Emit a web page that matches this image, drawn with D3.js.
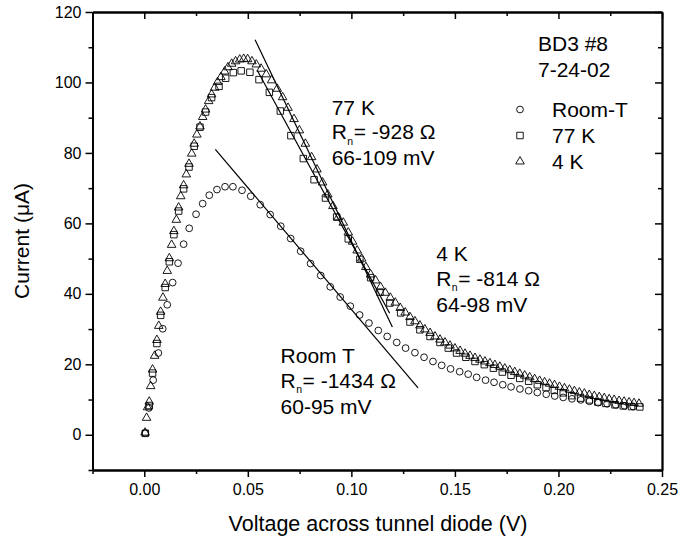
<!DOCTYPE html>
<html>
<head>
<meta charset="utf-8">
<script src="https://cdn.jsdelivr.net/npm/d3@7"></script>
<style>
  body { margin: 0; background: #fff; }
  svg { font-family: "Liberation Sans", Arial, sans-serif; }
</style>
</head>
<body>
<div id="chart"></div>
<script>
// Room temperature sweep (circles): [voltage V, current uA]
const roomT = [
  [0.0005,0.5],[0.0022,7.6],[0.0043,15.5],[0.0068,23.2],[0.0089,30.1],[0.0111,36.9],
  [0.0137,43.2],[0.0163,48.7],[0.0190,54.1],[0.0217,58.6],[0.0250,62.6],[0.0282,65.6],
  [0.0314,68.0],[0.0351,69.6],[0.0390,70.4],[0.0428,70.4],[0.0472,69.4],[0.0514,67.7],
  [0.0560,65.3],[0.0608,62.5],[0.0659,59.2],[0.0707,55.7],[0.0755,52.1],[0.0803,48.6],
  [0.0852,45.2],[0.0898,42.0],[0.0946,39.1],[0.0995,36.5],[0.1040,34.0],[0.1085,31.7],
  [0.1130,29.6],[0.1173,27.9],[0.1219,26.2],[0.1262,24.6],[0.1307,23.3],[0.1351,22.0],
  [0.1394,20.8],[0.1436,19.7],[0.1479,18.7],[0.1523,17.9],[0.1564,17.2],[0.1605,16.3],
  [0.1648,15.5],[0.1689,14.9],[0.1731,14.2],[0.1771,13.6],[0.1814,13.0],[0.1856,12.5],
  [0.1898,12.0],[0.1941,11.5],[0.1982,11.0],[0.2023,10.6],[0.2065,10.2],[0.2108,9.9],
  [0.2150,9.5],[0.2192,9.1],[0.2235,8.8],[0.2277,8.5],[0.2319,8.2],[0.2361,8.0]
];

// 77 K sweep (squares)
const k77 = [
  [0.0005,0.4],[0.0024,8.3],[0.0040,17.5],[0.0061,25.9],[0.0079,33.9],[0.0101,41.8],
  [0.0121,49.1],[0.0143,56.8],[0.0166,63.5],[0.0190,69.8],[0.0216,76.0],[0.0241,81.9],
  [0.0269,87.3],[0.0296,91.6],[0.0325,95.7],[0.0361,98.9],[0.0393,101.2],[0.0430,102.8],
  [0.0468,103.3],[0.0510,102.9],[0.0554,100.8],[0.0604,97.2],[0.0657,91.9],[0.0708,84.9],
  [0.0768,78.4],[0.0820,72.4],[0.0875,67.2],[0.0929,61.8],[0.0985,55.6],[0.1041,49.8],
  [0.1093,44.6],[0.1138,40.5],[0.1186,37.4],[0.1238,34.6],[0.1283,32.0],[0.1331,29.8],
  [0.1380,27.9],[0.1428,26.2],[0.1468,24.6],[0.1508,23.2],[0.1553,22.0],[0.1597,20.8],
  [0.1642,19.9],[0.1686,18.9],[0.1729,17.8],[0.1771,16.9],[0.1813,16.0],[0.1856,15.2],
  [0.1898,14.2],[0.1940,13.4],[0.1980,12.6],[0.2023,11.9],[0.2064,11.1],[0.2107,10.4],
  [0.2149,9.9],[0.2190,9.3],[0.2229,8.9],[0.2273,8.5],[0.2313,8.2],[0.2353,8.0],[0.2393,7.9]
];

// 4 K sweep (triangles)
const k4 = [
  [0.0004,0.6],[0.0011,4.8],[0.0016,7.8],[0.0024,9.4],[0.0031,13.8],[0.0040,18.5],
  [0.0050,22.4],[0.0061,26.9],[0.0070,30.9],[0.0079,34.9],[0.0090,38.9],[0.0101,42.8],
  [0.0111,46.5],[0.0121,50.1],[0.0132,53.9],[0.0143,57.8],[0.0155,61.0],[0.0166,64.5],
  [0.0176,67.7],[0.0190,70.8],[0.0203,73.9],[0.0216,76.9],[0.0229,79.8],[0.0241,82.6],
  [0.0254,85.2],[0.0269,87.5],[0.0282,90.2],[0.0296,92.3],[0.0311,94.7],[0.0325,96.6],
  [0.0340,98.5],[0.0354,100.1],[0.0370,101.5],[0.0388,103.1],[0.0404,104.3],[0.0422,105.3],
  [0.0441,106.0],[0.0461,106.5],[0.0480,106.7],[0.0499,106.6],[0.0520,106.0],[0.0541,105.1],
  [0.0564,103.9],[0.0589,102.3],[0.0615,100.6],[0.0642,98.2],[0.0668,95.8],[0.0694,92.8],
  [0.0723,89.6],[0.0749,86.4],[0.0778,82.6],[0.0808,78.8],[0.0834,75.3],[0.0861,71.6],
  [0.0886,68.2],[0.0911,64.9],[0.0936,61.7],[0.0961,60.2],[0.0985,57.4],[0.1006,54.8],
  [0.1028,52.3],[0.1050,50.0],[0.1070,47.6],[0.1093,45.5],[0.1117,43.8],[0.1141,41.9],
  [0.1164,40.3],[0.1188,38.9],[0.1212,37.5],[0.1236,36.0],[0.1260,34.7],[0.1283,33.4],
  [0.1307,32.2],[0.1331,31.0],[0.1355,29.9],[0.1380,28.9],[0.1404,27.9],[0.1428,27.0],
  [0.1452,26.2],[0.1476,25.3],[0.1500,24.5],[0.1525,23.8],[0.1549,23.0],[0.1573,22.4],
  [0.1597,21.8],[0.1621,21.3],[0.1645,20.8],[0.1669,20.3],[0.1693,19.8],[0.1717,19.3],
  [0.1741,18.8],[0.1765,18.3],[0.1789,17.8],[0.1813,17.3],[0.1837,16.8],[0.1861,16.3],
  [0.1885,15.8],[0.1909,15.3],[0.1933,14.9],[0.1957,14.5],[0.1981,14.1],[0.2005,13.6],
  [0.2029,13.2],[0.2053,12.8],[0.2077,12.4],[0.2101,12.0],[0.2125,11.7],[0.2149,11.3],
  [0.2173,11.0],[0.2197,10.7],[0.2221,10.4],[0.2245,10.1],[0.2269,9.9],[0.2293,9.6],
  [0.2317,9.4],[0.2341,9.2],[0.2365,9.0],[0.2389,8.8]
];

// linear fits over the negative-resistance region: [[v1,i1],[v2,i2]]
const fit4K = [[0.0535,112.1],[0.1198,30.6]];
const fit77K = [[0.0546,103.4],[0.1185,34.5]];
const fitRoomT = [[0.0343,81.0],[0.1322,13.3]];

const xTicks = [0, 0.05, 0.10, 0.15, 0.20, 0.25];
const yTicks = [0, 20, 40, 60, 80, 100, 120];
const xMinor = [-0.025, 0.025, 0.075, 0.125, 0.175, 0.225];
const yMinor = [-10, 10, 30, 50, 70, 90, 110];

const legendNames = ['Room-T', '77 K', '4 K'];
const notes = [
  { title: '77 K', r: '= -928 \u03A9', range: '66-109 mV', v: 0.0905, i: 90.8 },
  { title: '4 K', r: '= -814 \u03A9', range: '64-98 mV', v: 0.141, i: 49.2 },
  { title: 'Room T', r: '= -1434 \u03A9', range: '60-95 mV', v: 0.0658, i: 20.3 }
];

const W = 680, H = 546;
const x = d3.scaleLinear().domain([-0.025, 0.25]).range([92.5, 662]);
const y = d3.scaleLinear().domain([-10, 120]).range([470, 12]);

const svg = d3.select('#chart').append('svg')
  .attr('width', W).attr('height', H);

const fmtX = d3.format('.2f');
const majorLen = 7, minorLen = 4;

// bottom axis
svg.append('g').attr('transform', `translate(0,${y(-10)})`)
  .call(d3.axisBottom(x).tickValues(xTicks).tickFormat(fmtX).tickSize(majorLen).tickSizeOuter(0).tickPadding(7));
svg.append('g').attr('transform', `translate(0,${y(-10)})`)
  .call(d3.axisBottom(x).tickValues(xMinor).tickFormat('').tickSize(minorLen).tickSizeOuter(0));
// top axis (ticks inward)
svg.append('g').attr('transform', `translate(0,${y(120)})`)
  .call(d3.axisBottom(x).tickValues(xTicks).tickFormat('').tickSize(majorLen).tickSizeOuter(0));
svg.append('g').attr('transform', `translate(0,${y(120)})`)
  .call(d3.axisBottom(x).tickValues(xMinor).tickFormat('').tickSize(minorLen).tickSizeOuter(0));
// left axis
svg.append('g').attr('transform', `translate(${x(-0.025)},0)`)
  .call(d3.axisLeft(y).tickValues(yTicks).tickSize(majorLen).tickSizeOuter(0).tickPadding(4));
svg.append('g').attr('transform', `translate(${x(-0.025)},0)`)
  .call(d3.axisLeft(y).tickValues(yMinor).tickFormat('').tickSize(minorLen).tickSizeOuter(0));
// right axis (ticks inward)
svg.append('g').attr('transform', `translate(${x(0.25)},0)`)
  .call(d3.axisLeft(y).tickValues(yTicks).tickFormat('').tickSize(majorLen).tickSizeOuter(0));
svg.append('g').attr('transform', `translate(${x(0.25)},0)`)
  .call(d3.axisLeft(y).tickValues(yMinor).tickFormat('').tickSize(minorLen).tickSizeOuter(0));

svg.selectAll('.domain').attr('stroke', '#000').attr('stroke-width', 1.8);
svg.selectAll('.tick line').attr('stroke', '#000').attr('stroke-width', 1.5);
svg.selectAll('.tick text').attr('fill', '#000').style('font-size', '16px')
  .style('font-family', '"Liberation Sans", Arial, sans-serif');

// axis titles
svg.append('text')
  .attr('x', 378).attr('y', 531)
  .attr('text-anchor', 'middle')
  .style('font-size', '21.5px')
  .text('Voltage across tunnel diode (V)');
svg.append('text')
  .attr('transform', `translate(29,${241}) rotate(-90)`)
  .attr('text-anchor', 'middle')
  .style('font-size', '21px')
  .text('Current (\u03BCA)');

// fit lines
const line = d3.line().x(d => x(d[0])).y(d => y(d[1]));
[fit4K, fit77K, fitRoomT].forEach(f => {
  svg.append('path').attr('d', line(f))
    .attr('fill', 'none').attr('stroke', '#000').attr('stroke-width', 1.2);
});

// markers
const shapes = [
  d3.symbol().type(d3.symbolCircle).size(36),
  d3.symbol().type(d3.symbolSquare).size(42),
  d3.symbol().type(d3.symbolTriangle).size(32)
];
[roomT, k77, k4].forEach((series, si) => {
  svg.append('g').selectAll('path')
    .data(series)
    .join('path')
    .attr('transform', d => `translate(${x(d[0])},${y(d[1])})`)
    .attr('d', shapes[si]())
    .attr('fill', 'none')
    .attr('stroke', '#000')
    .attr('stroke-width', 0.9);
});

// sample id and legend
svg.append('text').attr('x', 538).attr('y', 51).style('font-size', '21px').text('BD3 #8');
svg.append('text').attr('x', 538).attr('y', 77).style('font-size', '21px').text('7-24-02');

const legend = svg.append('g');
legendNames.forEach((name, i) => {
  const ly = 109.5 + i * 26;
  legend.append('path')
    .attr('transform', `translate(520,${ly})`)
    .attr('d', shapes[i]())
    .attr('fill', 'none').attr('stroke', '#000').attr('stroke-width', 0.9);
  legend.append('text')
    .attr('x', 552).attr('y', ly + 7.5)
    .style('font-size', '21px')
    .text(name);
});

// fit annotations: R with subscript n
notes.forEach(n => {
  const g = svg.append('g')
    .attr('transform', `translate(${x(n.v)},${y(n.i)})`);
  g.append('text').attr('x', 0).attr('y', 0).style('font-size', '21px').text(n.title);
  g.append('text').attr('x', 0).attr('y', 24.5).style('font-size', '21px').text('R');
  g.append('text').attr('x', 15.6).attr('y', 30).style('font-size', '10.5px').text('n');
  g.append('text').attr('x', 22).attr('y', 24.5).style('font-size', '21px').text(n.r);
  g.append('text').attr('x', 0).attr('y', 50.5).style('font-size', '21px').text(n.range);
});
</script>
</body>
</html>
